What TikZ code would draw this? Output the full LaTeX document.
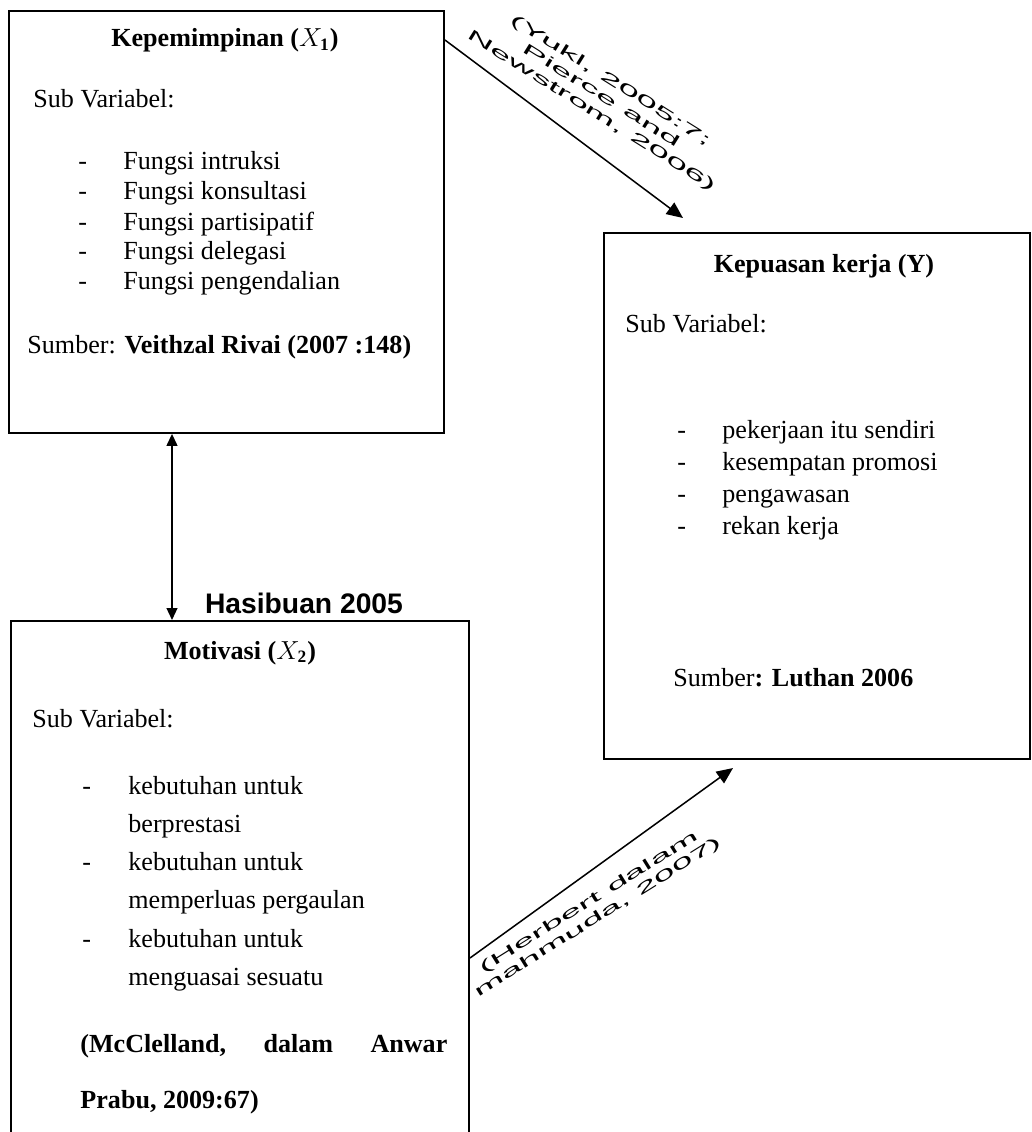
\documentclass[tikz,border=0pt]{standalone}
\usepackage{fontspec}
\setmainfont{Liberation Serif}
\setsansfont{Liberation Sans}
\newfontfamily\stretchsans[FakeStretch=2.5]{Liberation Sans}
\usetikzlibrary{arrows.meta,calc}

\begin{document}
\begin{tikzpicture}[x=0.46pt,y=-0.46pt,font=\fontsize{12}{14}\selectfont,
  box/.style={draw,line width=0.9pt,inner sep=0pt,anchor=north west},
  line/.style={anchor=base west,inner sep=0pt},
  head/.style={anchor=base,inner sep=0pt,font=\fontsize{12}{14}\selectfont\bfseries},
  arr/.style={line width=0.7pt,-{Triangle[length=7.5pt,width=6.5pt]}},
  dbl/.style={line width=0.7pt,{Triangle[length=5.5pt,width=5pt]}-{Triangle[length=5.5pt,width=5pt]}},
  cite/.style={font=\stretchsans\fontsize{7}{8.2}\selectfont,align=center,inner sep=0pt}]

\useasboundingbox (0,0) rectangle (1031,1132);
\clip (0,0) rectangle (1031,1132);


\begin{scope}
\node[box,minimum width=200.1pt,minimum height=194.1pt] (kepem) at (8,10) {};

\node[head] (kepemtitle) at (225,47) {Kepemimpinan ($X_{\mathbf{1}}$)};
\node[line] (kepemsub) at (33,108) {Sub Variabel:};
\foreach \txt [count=\i] in {Fungsi intruksi,Fungsi konsultasi,Fungsi partisipatif,Fungsi delegasi,Fungsi pengendalian}{
  \node[line] (kd\i) at (78,{140+30*\i}) {-};
  \node[line] (ki\i) at (123,{140+30*\i}) {\txt};
}
\node[line] (kepemsrc) at (27,353) {Sumber: \textbf{Veithzal Rivai (2007 :148)}};
\end{scope}


\begin{scope}
\node[box,minimum width=196pt,minimum height=242pt] (kepuasan) at (603,232) {};

\node[head] (kepuasantitle) at (824,272) {Kepuasan kerja (Y)};
\node[line] (kepuasansub) at (625,332) {Sub Variabel:};
\foreach \txt [count=\i] in {pekerjaan itu sendiri,kesempatan promosi,pengawasan,rekan kerja}{
  \node[line] (yd\i) at (677,{406+32*\i}) {-};
  \node[line] (yi\i) at (722,{406+32*\i}) {\txt};
}
\node[line] (kepuasansrc) at (673,686) {Sumber\textbf{: Luthan 2006}};
\end{scope}


\begin{scope}
\node[box,minimum width=210.7pt,minimum height=257.6pt] (motivasi) at (10,620) {};

\node[anchor=base,inner sep=0pt,font=\sffamily\bfseries\fontsize{13}{15}\selectfont] (hasibuan) at (304,613) {Hasibuan 2005};
\node[head] (motivasititle) at (240,659) {Motivasi ($X_{\mathbf{2}}$)};
\node[line] (motivasisub) at (32,727) {Sub Variabel:};
\node[line] (md1) at (82,794) {-};
\node[line] (mi1) at (128,794) {kebutuhan untuk};
\node[line] (mi2) at (128,832) {berprestasi};
\node[line] (md2) at (82,870) {-};
\node[line] (mi3) at (128,870) {kebutuhan untuk};
\node[line] (mi4) at (128,908) {memperluas pergaulan};
\node[line] (md3) at (82,947) {-};
\node[line] (mi5) at (128,947) {kebutuhan untuk};
\node[line] (mi6) at (128,985) {menguasai sesuatu};
\node[line] (motivasisrc) at (80,1052) {\makebox[168.8pt][s]{\textbf{(McClelland,}\hfill\textbf{dalam}\hfill\textbf{Anwar}}};
\node[line] (motivasisrcb) at (80,1108) {\textbf{Prabu, 2009:67)}};
\end{scope}


\draw[arr] ($(kepem.north east)+(0,30)$) -- ($(kepuasan.north west)+(80,-14)$);
\draw[dbl] ($(kepem.south west)+(164,0)$) -- ($(motivasi.north west)+(162,0)$);
\draw[arr] ($(motivasi.north east)+(0,338)$) -- ($(kepuasan.south west)+(130,8)$);

\node[cite,rotate=-32] (citeyukl) at (601,96) {(Yukl, 2005:7;\\Pierce and\\Newstrom, 2006)};
\node[cite,rotate=32] (citeherbert) at (594,910) {(Herbert dalam\\mahmuda, 2007)};

\end{tikzpicture}
\end{document}
